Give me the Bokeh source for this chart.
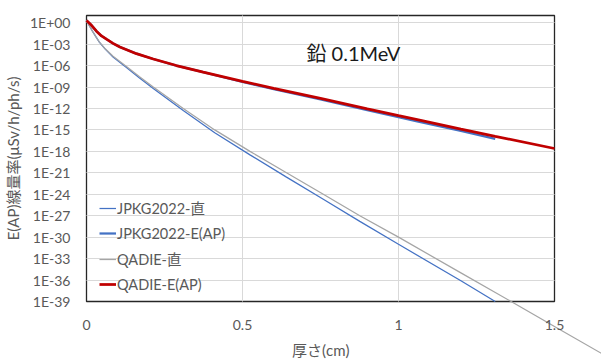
from bokeh.plotting import figure
from bokeh.document import Document
from bokeh.models import (Range1d, FixedTicker, CustomJSTickFormatter, Legend,
                          LegendItem, Label, CustomJS)
from bokeh.embed import file_html
from bokeh.resources import INLINE

# ---------------- data ----------------
jpkg_direct_x = [0, 0.01, 0.02, 0.03, 0.041, 0.06, 0.085, 0.126, 0.17, 0.214,
                 0.31, 0.411, 0.524, 0.641, 0.759, 0.876, 1.0, 1.2, 1.31]
jpkg_direct_y = [2.0, 3.2e-1, 5.6e-2, 1.1e-2, 1.9e-3, 2.0e-4, 1.6e-5, 6.3e-7,
                 1.8e-8, 6.3e-10, 5.0e-13, 4.0e-16, 3.2e-19, 2.5e-22,
                 2.0e-25, 1.6e-28, 1.0e-31, 8.0e-37, 1.0e-39]

jpkg_eap_x = [0, 0.016, 0.032, 0.048, 0.064, 0.085, 0.107, 0.16, 0.214, 0.288,
              0.374, 0.5, 0.6, 0.75, 0.9, 1.0, 1.06, 1.2, 1.31]
jpkg_eap_y = [2.0, 4.3e-1, 6.3e-2, 1.4e-2, 4.9e-3, 1.26e-3, 3.9e-4, 4.6e-5,
              8.3e-6, 1.0e-6, 1.2e-7, 5.0e-9, 5.0e-10, 1.8e-11, 5.6e-13,
              6.3e-14, 1.6e-14, 7.1e-16, 5.6e-17]

qadie_direct_x = [0, 0.01, 0.02, 0.03, 0.041, 0.06, 0.085, 0.126, 0.17, 0.214,
                  0.31, 0.411, 0.524, 0.641, 0.759, 0.876, 1.0, 1.2, 1.361,
                  1.5, 1.7]
qadie_direct_y = [2.0, 3.2e-1, 5.6e-2, 1.1e-2, 2.0e-3, 2.2e-4, 2.0e-5, 8.9e-7,
                  2.8e-8, 1.0e-9, 1.0e-12, 1.0e-15, 1.0e-18, 1.0e-21, 1.0e-24,
                  1.0e-27, 1.0e-30, 1.0e-35, 1.0e-39, 3.2e-43, 3.2e-48]

qadie_eap_x = [0, 0.016, 0.032, 0.048, 0.064, 0.085, 0.107, 0.16, 0.214, 0.288,
               0.374, 0.5, 0.6, 0.75, 0.9, 1.0, 1.06, 1.2, 1.31, 1.5]
qadie_eap_y = [2.0, 4.3e-1, 6.3e-2, 1.4e-2, 4.9e-3, 1.26e-3, 3.9e-4, 4.6e-5,
               8.3e-6, 1.0e-6, 1.2e-7, 6.2e-9, 6.3e-10, 2.5e-11, 8.9e-13,
               1.0e-13, 2.8e-14, 1.26e-15, 1.26e-16, 2.5e-18]

series_labels = ["JPKG2022-直", "JPKG2022-E(AP)", "QADIE-直", "QADIE-E(AP)"]

y_ticks = [1e0, 1e-3, 1e-6, 1e-9, 1e-12, 1e-15, 1e-18, 1e-21, 1e-24, 1e-27,
           1e-30, 1e-33, 1e-36, 1e-39]
y_tick_labels = ["1E+00", "1E-03", "1E-06", "1E-09", "1E-12", "1E-15",
                 "1E-18", "1E-21", "1E-24", "1E-27", "1E-30", "1E-33",
                 "1E-36", "1E-39"]
x_ticks = [0, 0.5, 1.0, 1.5]
x_tick_labels = ["0", "0.5", "1", "1.5"]

x_title = "厚さ(cm)"
y_title = "E(AP)線量率(μSv/h/ph/s)"
note = "鉛 0.1MeV"

# ---------------- styling ----------------
TXT = "#595959"
GRID = "#d9d9d9"
LATIN = "Lato"
CJK = "'Lato', 'Noto Sans CJK JP'"

p = figure(frame_width=468, frame_height=286,
           x_range=Range1d(0, 1.5), y_range=Range1d(1e-39, 1e1),
           y_axis_type="log", output_backend="svg", toolbar_location=None,
           min_border_left=80, min_border_right=47, min_border_top=15,
           min_border_bottom=30)
p.background_fill_color = "white"
p.border_fill_color = "white"
p.outline_line_color = "#262626"
p.outline_line_width = 1.3

# grids
p.xgrid.ticker = FixedTicker(ticks=x_ticks)
p.ygrid.ticker = FixedTicker(ticks=y_ticks)
p.xgrid.grid_line_color = GRID
p.ygrid.grid_line_color = GRID
p.grid.grid_line_width = 1

# axes
p.xaxis.ticker = FixedTicker(ticks=x_ticks)
p.xaxis.formatter = CustomJSTickFormatter(
    args=dict(tvals=x_ticks, tlabels=x_tick_labels),
    code="""
let best = 0, bd = Infinity;
for (let i = 0; i < tvals.length; i++) {
  const d = Math.abs(tvals[i] - tick);
  if (d < bd) { bd = d; best = i; }
}
return tlabels[best];
""")
p.yaxis.ticker = FixedTicker(ticks=y_ticks)
p.yaxis.formatter = CustomJSTickFormatter(
    args=dict(tvals=y_ticks, tlabels=y_tick_labels),
    code="""
let best = 0, bd = Infinity;
for (let i = 0; i < tvals.length; i++) {
  const d = Math.abs(Math.log10(tvals[i]) - Math.log10(tick));
  if (d < bd) { bd = d; best = i; }
}
return tlabels[best];
""")
for ax in (p.xaxis[0], p.yaxis[0]):
    ax.axis_line_color = None
    ax.major_tick_line_color = None
    ax.minor_tick_line_color = None
    ax.major_tick_out = 0
    ax.major_tick_in = 0
    ax.minor_tick_out = 0
    ax.minor_tick_in = 0
    ax.major_label_text_color = TXT
    ax.major_label_text_font = LATIN
    ax.major_label_text_font_size = "14px"
    ax.axis_label_text_color = TXT
    ax.axis_label_text_font = CJK
    ax.axis_label_text_font_style = "normal"
    ax.axis_label_text_font_size = "15px"

p.xaxis.axis_label = x_title
p.yaxis.axis_label = y_title
p.xaxis.major_label_standoff = 18
p.xaxis.axis_label_standoff = 8
p.yaxis.major_label_standoff = 16
p.yaxis.axis_label_standoff = 5

# lines (drawing order as in the original)
r1 = p.line(jpkg_direct_x, jpkg_direct_y, line_color="#4472C4", line_width=1.25)
r2 = p.line(jpkg_eap_x, jpkg_eap_y, line_color="#4472C4", line_width=2.25)
r3 = p.line(qadie_direct_x, qadie_direct_y, line_color="#A5A5A5", line_width=1.25)
r4 = p.line(qadie_eap_x, qadie_eap_y, line_color="#C00000", line_width=2.75)

legend = Legend(items=[LegendItem(label=series_labels[0], renderers=[r1]),
                       LegendItem(label=series_labels[1], renderers=[r2]),
                       LegendItem(label=series_labels[2], renderers=[r3]),
                       LegendItem(label=series_labels[3], renderers=[r4])],
                location=(13, 7))
legend.background_fill_alpha = 0
legend.border_line_color = None
legend.padding = 0
legend.margin = 0
legend.spacing = 5
legend.glyph_width = 17
legend.glyph_height = 20
legend.label_height = 20
legend.label_standoff = 1
legend.label_text_color = TXT
legend.label_text_font = CJK
legend.label_text_font_size = "14.5px"
p.add_layout(legend)

p.add_layout(Label(x=220, y=249, x_units="screen", y_units="screen",
                   text=note, text_baseline="middle", text_align="left",
                   text_font=CJK, text_font_size="20px",
                   text_color="#1a1a1a"))

# Like the spreadsheet original, series lines are not clipped at the plot
# area: the QADIE direct line runs on past the frame.
doc = Document()
doc.add_root(p)
doc.js_on_event("document_ready", CustomJS(code="""
function strip(root) {
  const els = root.querySelectorAll('*');
  for (const el of els) {
    if (el.hasAttribute && el.hasAttribute('clip-path')) el.removeAttribute('clip-path');
    if (el.shadowRoot) strip(el.shadowRoot);
  }
}
let n = 0;
strip(document);
const id = setInterval(() => { strip(document); if (++n > 80) clearInterval(id); }, 50);
"""))

open("out.html", "w").write(file_html(p, INLINE))
